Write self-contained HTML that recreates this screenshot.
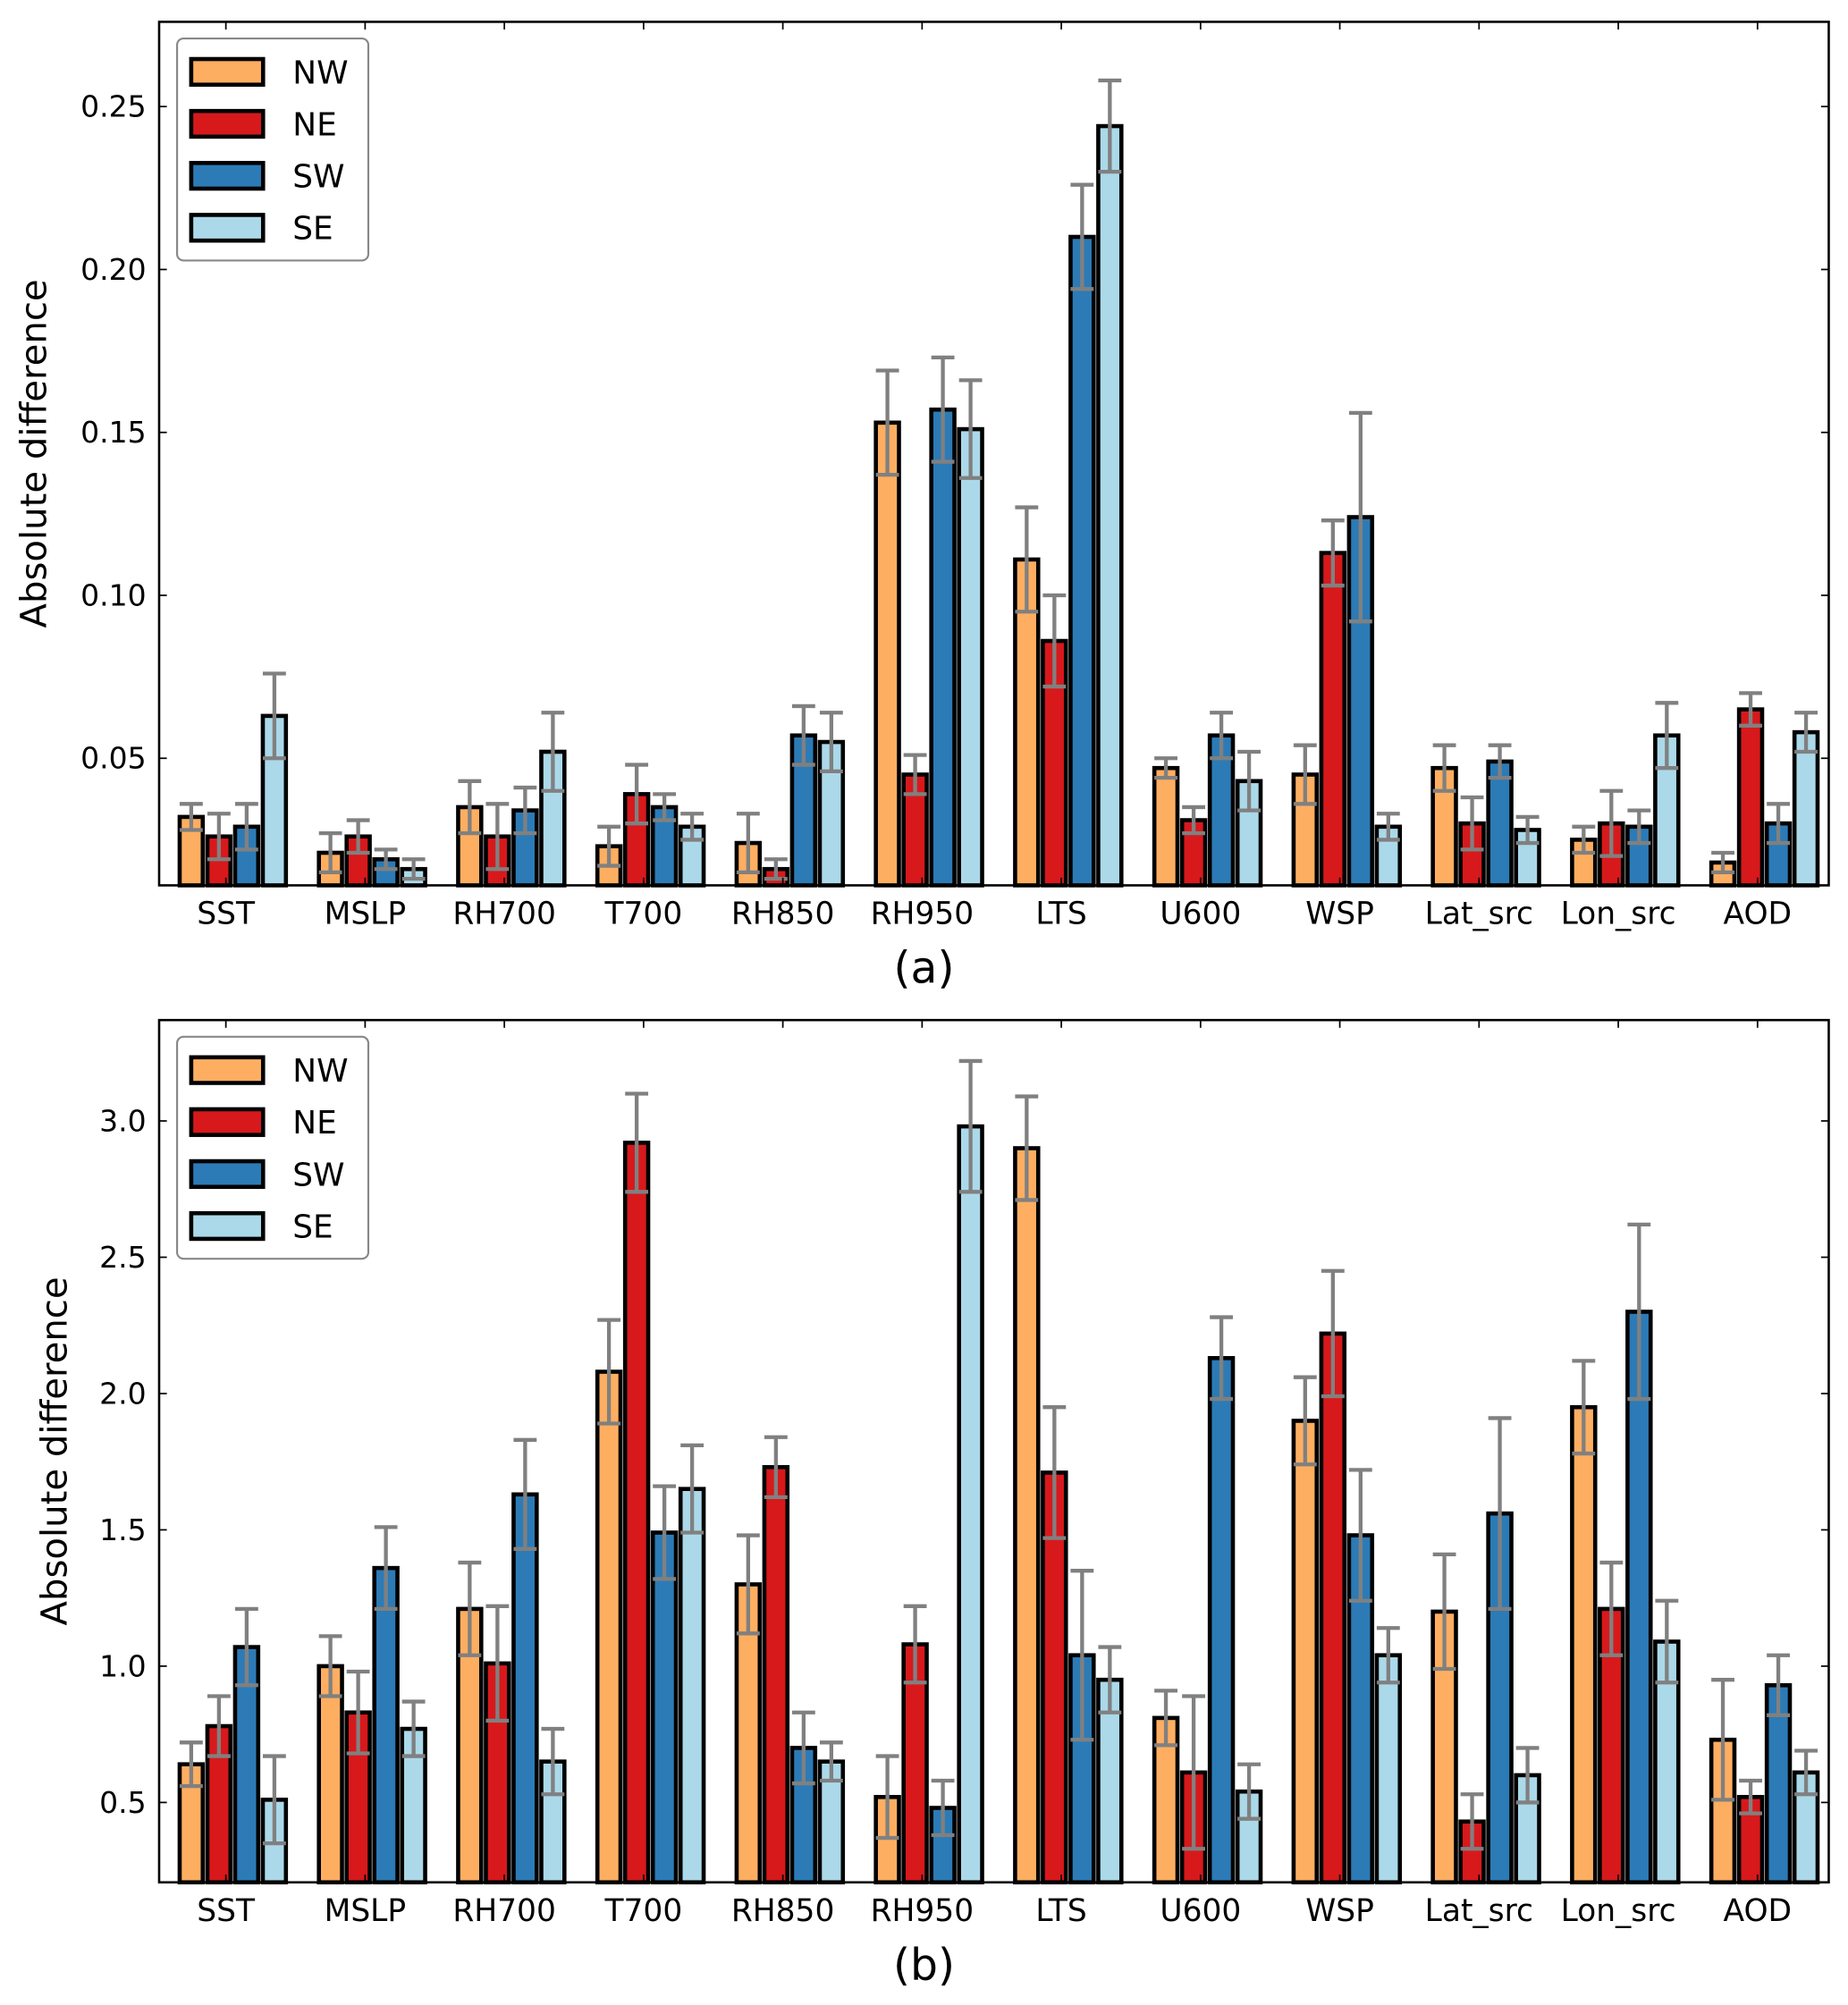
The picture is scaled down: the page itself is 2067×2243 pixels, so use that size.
<!DOCTYPE html>
<html><head><meta charset="utf-8"><style>
html,body{margin:0;padding:0;background:#fff}
svg{display:block;font-family:"DejaVu Sans","Liberation Sans",sans-serif}
</style></head><body>
<svg id="fig" xmlns="http://www.w3.org/2000/svg" width="2067" height="2243" viewBox="0 0 1440 1562.6"></svg>
<script>
const categories = ["SST","MSLP","RH700","T700","RH850","RH950","LTS","U600","WSP","Lat_src","Lon_src","AOD"];
const seriesNames = ["NW","NE","SW","SE"];
const seriesColors = ["#fdae61","#d7191c","#2c7bb6","#abd9e9"];
// panel (a) values & error (upper cap) per series
const aNW = [0.032,0.021,0.035,0.023,0.024,0.153,0.111,0.047,0.045,0.047,0.025,0.018];
const aNE = [0.026,0.026,0.026,0.039,0.016,0.045,0.086,0.031,0.113,0.030,0.030,0.065];
const aSW = [0.029,0.019,0.034,0.035,0.057,0.157,0.210,0.057,0.124,0.049,0.029,0.030];
const aSE = [0.063,0.016,0.052,0.029,0.055,0.151,0.244,0.043,0.029,0.028,0.057,0.058];
const aNWcap = [0.036,0.027,0.043,0.029,0.033,0.169,0.127,0.050,0.054,0.054,0.029,0.021];
const aNEcap = [0.033,0.031,0.036,0.048,0.019,0.051,0.100,0.035,0.123,0.038,0.040,0.070];
const aSWcap = [0.036,0.022,0.041,0.039,0.066,0.173,0.226,0.064,0.156,0.054,0.034,0.036];
const aSEcap = [0.076,0.019,0.064,0.033,0.064,0.166,0.258,0.052,0.033,0.032,0.067,0.064];
const aTicks = [0.05,0.10,0.15,0.20,0.25];
const aTickLabels = ["0.05","0.10","0.15","0.20","0.25"];
// panel (b)
const bNW = [0.64,1.00,1.21,2.08,1.30,0.52,2.90,0.81,1.90,1.20,1.95,0.73];
const bNE = [0.78,0.83,1.01,2.92,1.73,1.08,1.71,0.61,2.22,0.43,1.21,0.52];
const bSW = [1.07,1.36,1.63,1.49,0.70,0.48,1.04,2.13,1.48,1.56,2.30,0.93];
const bSE = [0.51,0.77,0.65,1.65,0.65,2.98,0.95,0.54,1.04,0.60,1.09,0.61];
const bNWcap = [0.72,1.11,1.38,2.27,1.48,0.67,3.09,0.91,2.06,1.41,2.12,0.95];
const bNEcap = [0.89,0.98,1.22,3.10,1.84,1.22,1.95,0.89,2.45,0.53,1.38,0.58];
const bSWcap = [1.21,1.51,1.83,1.66,0.83,0.58,1.35,2.28,1.72,1.91,2.62,1.04];
const bSEcap = [0.67,0.87,0.77,1.81,0.72,3.22,1.07,0.64,1.14,0.70,1.24,0.69];
const bTicks = [0.5,1.0,1.5,2.0,2.5,3.0];
const bTickLabels = ["0.5","1.0","1.5","2.0","2.5","3.0"];

const NS="http://www.w3.org/2000/svg";
const svg=document.getElementById('fig');
function mk(tag,attrs,parent,text){const e=document.createElementNS(NS,tag);for(const k in attrs)e.setAttribute(k,attrs[k]);if(text!==undefined)e.textContent=text;(parent||svg).appendChild(e);return e;}

function panel(cfg){
  const g=mk('g',{});
  
  
  const L=124,R=1425,T=cfg.top,B=cfg.bottom;
  const y=v=>B-(v-cfg.ymin)/(cfg.ymax-cfg.ymin)*(B-T);
  const xc=i=>176+108.5*i;
  const step=21.6,bw=18;
  cfg.vals.forEach((arr,s)=>{
    arr.forEach((v,i)=>{
      const x0=xc(i)-36+s*step;
      const r=mk('rect',{x:x0,y:y(v),width:bw,height:B-y(v),fill:seriesColors[s],stroke:'#000','stroke-width':3.2},g);
      
      
    });
  });
  cfg.vals.forEach((arr,s)=>{
    arr.forEach((v,i)=>{
      const cx=xc(i)-36+s*step+bw/2;
      const e=cfg.caps[s][i]-v;
      const hi=y(v+e),lo=Math.min(y(v-e),B);
      const eg=mk('g',{stroke:'#808080','stroke-width':3,fill:'none'},g);
      
      
      mk('line',{x1:cx,x2:cx,y1:hi,y2:lo},eg);
      mk('line',{x1:cx-9,x2:cx+9,y1:hi,y2:hi},eg);
      if(y(v-e)<=B) mk('line',{x1:cx-9,x2:cx+9,y1:lo,y2:lo},eg);
    });
  });
  const f=mk('rect',{x:L,y:T,width:R-L,height:B-T,fill:'none',stroke:'#000','stroke-width':1.8},g);
  
  
  cfg.ticks.forEach((t,k)=>{
    const yy=y(t);
    mk('line',{x1:L,x2:L+6,y1:yy,y2:yy,stroke:'#000','stroke-width':1.2},g);
    mk('line',{x1:R,x2:R-6,y1:yy,y2:yy,stroke:'#000','stroke-width':1.2},g);
    const tl=mk('text',{x:L-10,y:yy+8,'text-anchor':'end','font-size':23},g,cfg.tickLabels[k]);
    
    
  });
  categories.forEach((c,i)=>{
    const xx=xc(i);
    mk('line',{x1:xx,x2:xx,y1:B,y2:B-6,stroke:'#000','stroke-width':1.2},g);
    mk('line',{x1:xx,x2:xx,y1:T,y2:T+6,stroke:'#000','stroke-width':1.2},g);
    const xl=mk('text',{x:xx,y:B+30,'text-anchor':'middle','font-size':24},g,c);
    
    
  });
  const yt=mk('text',{x:0,y:0,'text-anchor':'middle','font-size':28,transform:`translate(${cfg.ytx},${(T+B)/2}) rotate(-90)`},g,'Absolute difference');
  
  
  const pl=mk('text',{x:720,y:B+76,'text-anchor':'middle','font-size':34},g,cfg.label);
  
  
  const lg=mk('g',{},g);
  
  
  mk('rect',{x:138,y:T+13,width:149,height:173,rx:5,fill:'#fff',stroke:'#888','stroke-width':1.5},lg);
  seriesNames.forEach((n,s)=>{
    const cy=T+39+s*40.5;
    const le=mk('g',{},lg);
    
    
    mk('rect',{x:149,y:cy-10,width:56,height:20,fill:seriesColors[s],stroke:'#000','stroke-width':3.2},le);
    mk('text',{x:228,y:cy+9,'font-size':25},le,n);
  });
}
panel({name:'panel-a',top:17,bottom:690,ymin:0.011,ymax:0.276,ticks:aTicks,tickLabels:aTickLabels,
  vals:[aNW,aNE,aSW,aSE],caps:[aNWcap,aNEcap,aSWcap,aSEcap],label:'(a)',ytx:36});
panel({name:'panel-b',top:795,bottom:1467,ymin:0.207,ymax:3.37,ticks:bTicks,tickLabels:bTickLabels,
  vals:[bNW,bNE,bSW,bSE],caps:[bNWcap,bNEcap,bSWcap,bSEcap],label:'(b)',ytx:52});
</script>
</body></html>
